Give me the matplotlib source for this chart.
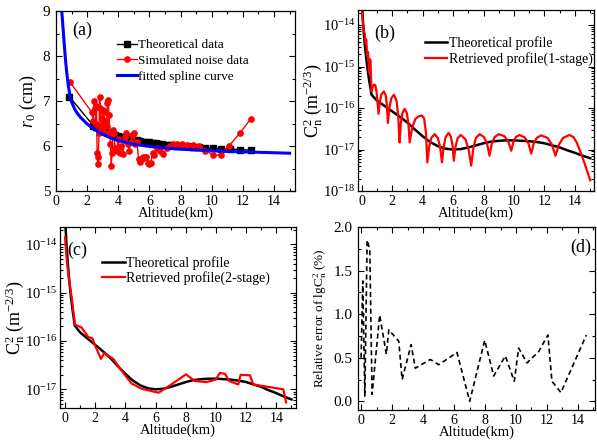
import numpy as np
import matplotlib
matplotlib.use("Agg")
import matplotlib.pyplot as plt
from matplotlib.ticker import MultipleLocator, LogLocator, NullFormatter

plt.rcParams['font.family'] = ['Liberation Serif', 'DejaVu Serif']
plt.rcParams['mathtext.fontset'] = 'custom'
plt.rcParams['mathtext.rm'] = 'Liberation Serif'
plt.rcParams['mathtext.it'] = 'Liberation Serif:italic'
plt.rcParams['mathtext.bf'] = 'Liberation Serif:bold'

# ---------------- (a) r0 data ----------------
theo_alt = [0.85, 2.4, 2.6, 2.8, 3.0, 3.2, 3.4, 3.6, 3.8, 4.0, 4.2, 4.4, 4.6, 4.8,
            5.0, 5.2, 5.4, 5.6, 5.8, 6.0, 6.2, 6.4, 6.6, 6.8, 7.0, 7.2, 7.4, 7.7,
            8.0, 8.4, 8.8, 9.2, 9.6, 10.1, 10.6, 11.2, 11.8, 12.5]
theo_r0 = [7.1, 6.45, 6.42, 6.38, 6.36, 6.33, 6.30, 6.28, 6.25, 6.23, 6.21, 6.19,
           6.17, 6.16, 6.14, 6.13, 6.12, 6.10, 6.09, 6.08, 6.07, 6.06, 6.05, 6.04,
           6.03, 6.03, 6.02, 6.01, 6.00, 5.99, 5.98, 5.97, 5.96, 5.95, 5.94, 5.93,
           5.92, 5.91]

noise_alt = [0.9, 2.3, 2.38, 2.45, 2.5, 2.55, 2.6, 2.64, 2.68, 2.72, 2.76, 2.8, 2.85,
             2.9, 2.95, 3.0, 3.05, 3.1, 3.15, 3.2, 3.25, 3.3, 3.35, 3.4, 3.45, 3.5,
             3.55, 3.6, 3.65, 3.7, 3.8, 3.9, 4.0, 4.1, 4.2, 4.3, 4.4, 4.5, 4.6, 4.7,
             4.8, 4.9, 5.0, 5.1, 5.2, 5.3, 5.4, 5.5, 5.6, 5.7, 5.8, 5.9, 6.0, 6.1,
             6.2, 6.3, 6.5, 6.7, 6.9, 7.1, 7.3, 7.5, 7.8, 8.1, 8.4, 8.8, 9.2, 9.6,
             10.1, 10.6, 11.1, 11.8, 12.5]
noise_r0 = [7.42, 6.75, 6.55, 7.0, 6.85, 6.5, 6.9, 5.85, 5.6, 5.75, 6.3, 7.1, 6.85,
            6.4, 6.6, 6.8, 6.5, 6.75, 6.3, 6.55, 6.45, 6.95, 7.02, 6.7, 6.3, 6.05,
            5.55, 5.85, 6.35, 6.3, 5.95, 5.9, 6.15, 5.85, 6.0, 5.82, 6.2, 6.3, 6.05,
            5.9, 6.1, 6.25, 6.28, 6.05, 6.1, 5.72, 5.65, 5.72, 5.75, 5.76, 5.75,
            5.62, 5.6, 5.62, 5.85, 5.8, 5.95, 5.88, 5.82, 5.95, 6.0, 6.05, 6.05,
            6.04, 6.03, 6.02, 6.0, 5.9, 5.8, 5.8, 6.0, 6.28, 6.6]

spline_alt = [0.37, 0.5, 0.6, 0.7, 0.8, 0.9, 1.0, 1.2, 1.4, 1.65, 2.0, 2.5, 3.0, 3.5,
              4.0, 5.0, 6.0, 7.0, 8.0, 9.0, 10.0, 11.0, 12.0, 13.0, 14.0, 15.0]
spline_r0 = [9.0, 8.4, 7.95, 7.6, 7.32, 7.12, 6.98, 6.82, 6.71, 6.61, 6.49, 6.36,
             6.26, 6.18, 6.12, 6.04, 5.99, 5.955, 5.93, 5.91, 5.895, 5.88, 5.87,
             5.86, 5.85, 5.84]

# ---------------- Cn2 profiles (log10 of Cn2) ----------------
prof_alt = [0.0, 0.1, 0.2, 0.3, 0.4, 0.5, 0.65, 1.0, 1.5, 2.0, 2.5, 3.0, 3.5, 4.0,
            4.5, 5.0, 5.5, 6.0, 6.5, 7.0, 7.5, 8.0, 8.5, 9.0, 9.5, 10.0, 10.5,
            11.0, 11.5, 12.0, 12.5, 13.0, 13.5, 14.0, 14.5, 15.0]
prof_log = [-13.4, -14.0, -14.45, -14.8, -15.1, -15.35, -15.68, -15.82, -15.95,
            -16.08, -16.21, -16.35, -16.52, -16.68, -16.82, -16.92, -16.98, -17.0,
            -16.99, -16.95, -16.9, -16.85, -16.81, -16.79, -16.78, -16.78, -16.79,
            -16.8, -16.82, -16.85, -16.9, -16.95, -17.02, -17.08, -17.15, -17.21]

ret1_alt = [0.0, 0.12, 0.2, 0.26, 0.3, 0.36, 0.42, 0.48, 0.52, 0.58, 0.64,
            0.72, 0.8, 0.9, 0.98, 1.11, 1.2, 1.3, 1.46, 1.58, 1.66, 1.72,
            1.82, 1.94, 2.12, 2.29, 2.40, 2.49, 2.57, 2.67, 2.82, 2.97, 3.07, 3.15,
            3.32, 3.53, 3.75, 3.95, 4.1, 4.22, 4.31, 4.43, 4.57, 4.79, 5.0, 5.15, 5.27,
            5.38, 5.51, 5.7, 5.86, 5.96, 6.05, 6.16, 6.3, 6.5, 6.81, 7.02, 7.19,
            7.33, 7.49, 7.74, 8.03, 8.23, 8.39, 8.54, 8.73, 9.0, 9.37, 9.62, 9.82,
            9.96, 10.12, 10.36, 10.71, 10.94, 11.13, 11.29, 11.49, 11.78, 12.2, 12.49,
            12.72, 12.95, 13.23, 13.64, 13.9, 14.1, 14.3, 14.6, 15.0]
ret1_log = [-13.5, -14.1, -14.2, -14.45, -14.35, -14.75, -14.65, -15.15, -14.82,
            -14.85, -15.6, -15.5, -15.44, -15.45, -15.62, -16.14, -15.84, -15.67,
            -15.6, -15.7, -15.94, -16.36, -15.99, -15.77, -15.68, -15.83, -16.2,
            -16.83, -16.38, -16.13, -16.02, -16.13, -16.38, -16.83, -16.47, -16.26,
            -16.2, -16.18, -16.25, -16.6, -17.31, -16.94, -16.72, -16.63, -16.72,
            -16.94, -17.31, -16.94, -16.7, -16.6, -16.69, -16.9, -17.27, -16.93,
            -16.73, -16.65, -16.75, -17.0, -17.39, -16.97, -16.73, -16.63, -16.7,
            -16.86, -17.15, -16.86, -16.7, -16.63, -16.68, -16.81, -17.03, -16.82,
            -16.7, -16.65, -16.71, -16.85, -17.1, -16.86, -16.72, -16.66, -16.72,
            -16.88, -17.15, -16.88, -16.72, -16.65, -16.7, -16.82, -17.0, -17.3,
            -17.74]

ret2_alt = [0.0, 0.11, 0.26, 0.44, 0.66, 1.1, 1.55, 1.81, 1.99, 2.38, 2.6, 3.2,
            3.64, 4.41, 5.08, 6.2, 6.95, 8.01, 8.61, 9.38, 9.98, 10.26, 10.6, 10.88,
            11.48, 11.63, 12.25, 12.47, 14.46, 14.64]
ret2_log = [-13.85, -14.3, -14.71, -15.09, -15.66, -15.72, -15.92, -15.94, -16.09,
            -16.37, -16.25, -16.37, -16.57, -16.88, -16.99, -17.07, -16.92, -16.69,
            -16.83, -16.85, -16.8, -16.66, -16.68, -16.83, -16.9, -16.7, -16.71,
            -16.9, -17.0, -17.27]

# ---------------- (d) relative error ----------------
err_alt = [0.0, 0.11, 0.24, 0.39, 0.56, 0.71, 1.2, 1.63, 1.79, 2.43, 2.65, 3.23,
           3.5, 4.47, 5.01, 6.19, 7.01, 7.98, 8.56, 9.31, 9.89, 10.17, 10.71, 11.46,
           12.06, 12.32, 12.9, 14.54]
err_val = [0.5, 1.38, 0.06, 1.85, 1.74, 0.08, 0.99, 0.54, 0.82, 0.69, 0.25, 0.65,
           0.38, 0.48, 0.42, 0.56, 0.0, 0.70, 0.29, 0.52, 0.23, 0.61, 0.44, 0.57,
           0.76, 0.23, 0.10, 0.76]

W, H = 597, 445
fig = plt.figure(figsize=(W / 100, H / 100), dpi=100)


def box(l, r, t, b):
    return [l / W, (H - b) / H, (r - l) / W, (b - t) / H]


def style(ax, ylab=10.5):
    ax.tick_params(which='both', direction='in', top=True, right=True, width=0.8)
    ax.tick_params(axis='x', labelsize=10, pad=3)
    ax.tick_params(axis='y', labelsize=ylab, pad=4)
    ax.tick_params(which='major', length=4)
    ax.tick_params(which='minor', length=2)
    for s in ax.spines.values():
        s.set_linewidth(0.9)
    ax.xaxis.set_major_locator(MultipleLocator(2))
    ax.xaxis.set_minor_locator(MultipleLocator(1))
    ax.set_xlabel('Altitude(km)', fontsize=10.5, labelpad=-1)


axa = fig.add_axes(box(56, 295, 11, 191))
axb = fig.add_axes(box(358, 594, 10, 191))
axc = fig.add_axes(box(60, 296, 227, 408))
axd = fig.add_axes(box(358, 595, 227, 410))

# (a)
axa.plot(theo_alt, theo_r0, '-s', color='black', lw=1, ms=4.2, label='Theoretical data')
axa.plot(noise_alt, noise_r0, '-o', color='red', lw=1, ms=3.8, label='Simulated noise data')
axa.plot(spline_alt, spline_r0, '-', color='blue', lw=2.2, label='fitted spline curve')
axa.set_xlim(0, 15.35)
axa.set_ylim(5, 9)
axa.yaxis.set_major_locator(MultipleLocator(1))
axa.yaxis.set_minor_locator(MultipleLocator(0.5))
style(axa, ylab=11)
axa.set_ylabel(r'$r_0$ (cm)', fontsize=13, labelpad=3)
axa.text(0.07, 0.89, '(a)', transform=axa.transAxes, fontsize=13, va='center')
axa.legend(loc='upper left', bbox_to_anchor=(0.255, 0.845), frameon=False, fontsize=9.5,
           handlelength=1.5, handletextpad=0.1, labelspacing=0.28, borderpad=0,
           borderaxespad=0)

# (b), (c)
for ax, alt, vals, lab, lo in [
        (axb, ret1_alt, ret1_log, 'Retrieved profile(1-stage)', 1e-18),
        (axc, ret2_alt, ret2_log, 'Retrieved profile(2-stage)', 4.1e-18)]:
    ax.plot(prof_alt, 10.0 ** np.array(prof_log), color='black', lw=1.8,
            label='Theoretical profile')
    ax.plot(alt, 10.0 ** np.array(vals), color='red', lw=1.6, label=lab)
    ax.set_yscale('log')
    ax.set_ylim(lo, 2.3e-14)
    ax.yaxis.set_major_locator(LogLocator(base=10, numticks=10))
    ax.yaxis.set_minor_locator(LogLocator(base=10, subs=np.arange(2, 10), numticks=20))
    ax.yaxis.set_minor_formatter(NullFormatter())
    style(ax, ylab=10.5)
    ax.tick_params(axis='y', pad=2)
    ax.set_ylabel(r'$\mathrm{C}_\mathrm{n}^2$ (m$^{-2/3}$)', fontsize=13, labelpad=-2)

axb.set_xlim(-0.24, 15.25)
axc.set_xlim(-0.33, 15.3)
axb.text(0.07, 0.87, '(b)', transform=axb.transAxes, fontsize=13, va='center')
axc.text(0.03, 0.87, '(c)', transform=axc.transAxes, fontsize=13, va='center')
axb.legend(loc='upper left', bbox_to_anchor=(0.285, 0.855), frameon=False, fontsize=10,
           handlelength=1.6, handletextpad=0.1, labelspacing=0.12, borderpad=0,
           borderaxespad=0)
axc.legend(loc='upper left', bbox_to_anchor=(0.18, 0.84), frameon=False, fontsize=10,
           handlelength=1.6, handletextpad=0.1, labelspacing=0.12, borderpad=0,
           borderaxespad=0)

# (d)
axd.plot(err_alt, err_val, '--', color='black', lw=1.2, dashes=(3, 2))
axd.set_xlim(-0.2, 15.1)
axd.set_ylim(-0.1, 2.0)
axd.yaxis.set_major_locator(MultipleLocator(0.5))
axd.yaxis.set_minor_locator(MultipleLocator(0.25))
axd.yaxis.set_major_formatter(plt.FuncFormatter(lambda v, p: f'{v:.1f}'))
style(axd, ylab=11)
axd.set_ylabel(r'Relative error of lg$\mathrm{C}_\mathrm{n}^2$ (%)', fontsize=9.5, labelpad=3)
axd.text(0.985, 0.89, '(d)', transform=axd.transAxes, fontsize=13, va='center', ha='right')

fig.savefig('out.png', dpi=100)
